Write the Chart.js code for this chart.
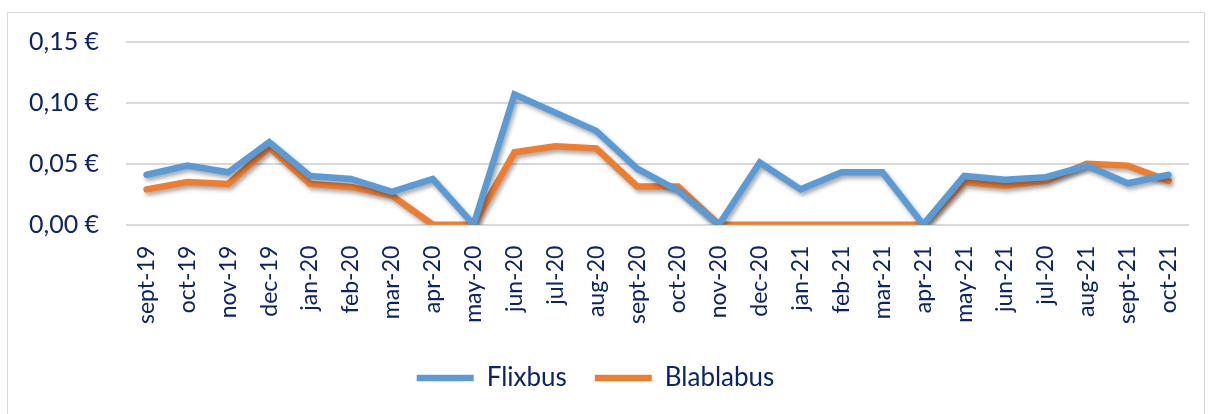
<!DOCTYPE html>
<html>
<head>
<meta charset="utf-8">
<script src="https://cdn.jsdelivr.net/npm/chart.js@4/dist/chart.umd.min.js"></script>
<style>
  html, body { margin: 0; padding: 0; background: #fff; }
  #frame { position: absolute; left: 7px; top: 12px; width: 1198px; height: 420px; border: 1.5px solid #d9d9d9; box-sizing: border-box; }
  #wrap { position: absolute; left: 0; top: 0; width: 1213px; height: 414px; }
</style>
</head>
<body>
<div id="frame"></div>
<div id="wrap"><canvas id="chart"></canvas></div>
<script>
  const months = [
    'sept-19', 'oct-19', 'nov-19', 'dec-19', 'jan-20', 'feb-20', 'mar-20', 'apr-20', 'may-20',
    'jun-20', 'jul-20', 'aug-20', 'sept-20', 'oct-20', 'nov-20', 'dec-20', 'jan-21', 'feb-21',
    'mar-21', 'apr-21', 'may-21', 'jun-21', 'jul-20', 'aug-21', 'sept-21', 'oct-21',
  ];
  const flixbus = [
    0.041, 0.0485, 0.043, 0.0677, 0.040, 0.0376, 0.027, 0.0376, 0.0,
    0.107, 0.092, 0.077, 0.046, 0.028, 0.0, 0.051, 0.029, 0.043,
    0.043, 0.0, 0.040, 0.037, 0.039, 0.0485, 0.034, 0.041,
  ];
  const blablabus = [
    0.029, 0.035, 0.0335, 0.0636, 0.0335, 0.031, 0.024, 0.0, 0.0,
    0.0595, 0.0644, 0.0627, 0.0314, 0.0314, 0.0, 0.0, 0.0, 0.0,
    0.0, 0.0, 0.035, 0.032, 0.036, 0.050, 0.0485, 0.036,
  ];
  const yTicks = [0, 0.05, 0.10, 0.15];

  const textColor = '#0c2466';
  const fontFamily = 'Lato, "Open Sans", sans-serif';

  // soft drop shadow under the lines, like the office chart
  const shadowPlugin = {
    id: 'lineShadow',
    beforeDatasetsDraw(chart) {
      const c = chart.ctx;
      c.save();
      c.shadowColor = 'rgba(0,0,0,0.35)';
      c.shadowBlur = 4;
      c.shadowOffsetX = 2;
      c.shadowOffsetY = 3;
    },
    afterDatasetsDraw(chart) {
      chart.ctx.restore();
    },
  };

  const ctx = document.getElementById('chart').getContext('2d');
  new Chart(ctx, {
    type: 'line',
    data: {
      labels: months,
      datasets: [
        { label: 'Flixbus',   data: flixbus,   borderColor: '#5b9bd5', backgroundColor: '#5b9bd5' },
        { label: 'Blablabus', data: blablabus, borderColor: '#ed7d31', backgroundColor: '#ed7d31' },
      ].map(d => ({
        ...d,
        borderWidth: 6.5,
        pointRadius: 0,
        pointStyle: 'line',
        tension: 0,
        fill: false,
        borderCapStyle: 'round',
        borderJoinStyle: 'miter',
      })),
    },
    options: {
      animation: false,
      responsive: true,
      maintainAspectRatio: false,
      layout: { padding: { left: 2, right: 24, top: 30, bottom: 13 } },
      scales: {
        x: {
          offset: true,
          grid: { display: false },
          border: { display: false },
          ticks: {
            color: textColor,
            font: { family: fontFamily, size: 23 },
            minRotation: 90,
            maxRotation: 90,
            autoSkip: false,
            padding: 13,
          },
        },
        y: {
          min: 0,
          max: 0.15,
          afterBuildTicks: axis => { axis.ticks = yTicks.map(v => ({ value: v })); },
          grid: { color: '#d9d9d9', lineWidth: 2, drawTicks: false },
          border: { display: false },
          ticks: {
            color: textColor,
            font: { family: fontFamily, size: 25 },
            padding: 27,
            callback: v => v.toFixed(2).replace('.', ',') + ' €',
          },
        },
      },
      plugins: {
        legend: {
          position: 'bottom',
          labels: {
            color: textColor,
            font: { family: fontFamily, size: 26 },
            usePointStyle: true,
            pointStyleWidth: 57,
            boxHeight: 6,
            padding: 28,
          },
        },
        tooltip: { enabled: false },
      },
    },
    plugins: [shadowPlugin],
  });
</script>
</body>
</html>
